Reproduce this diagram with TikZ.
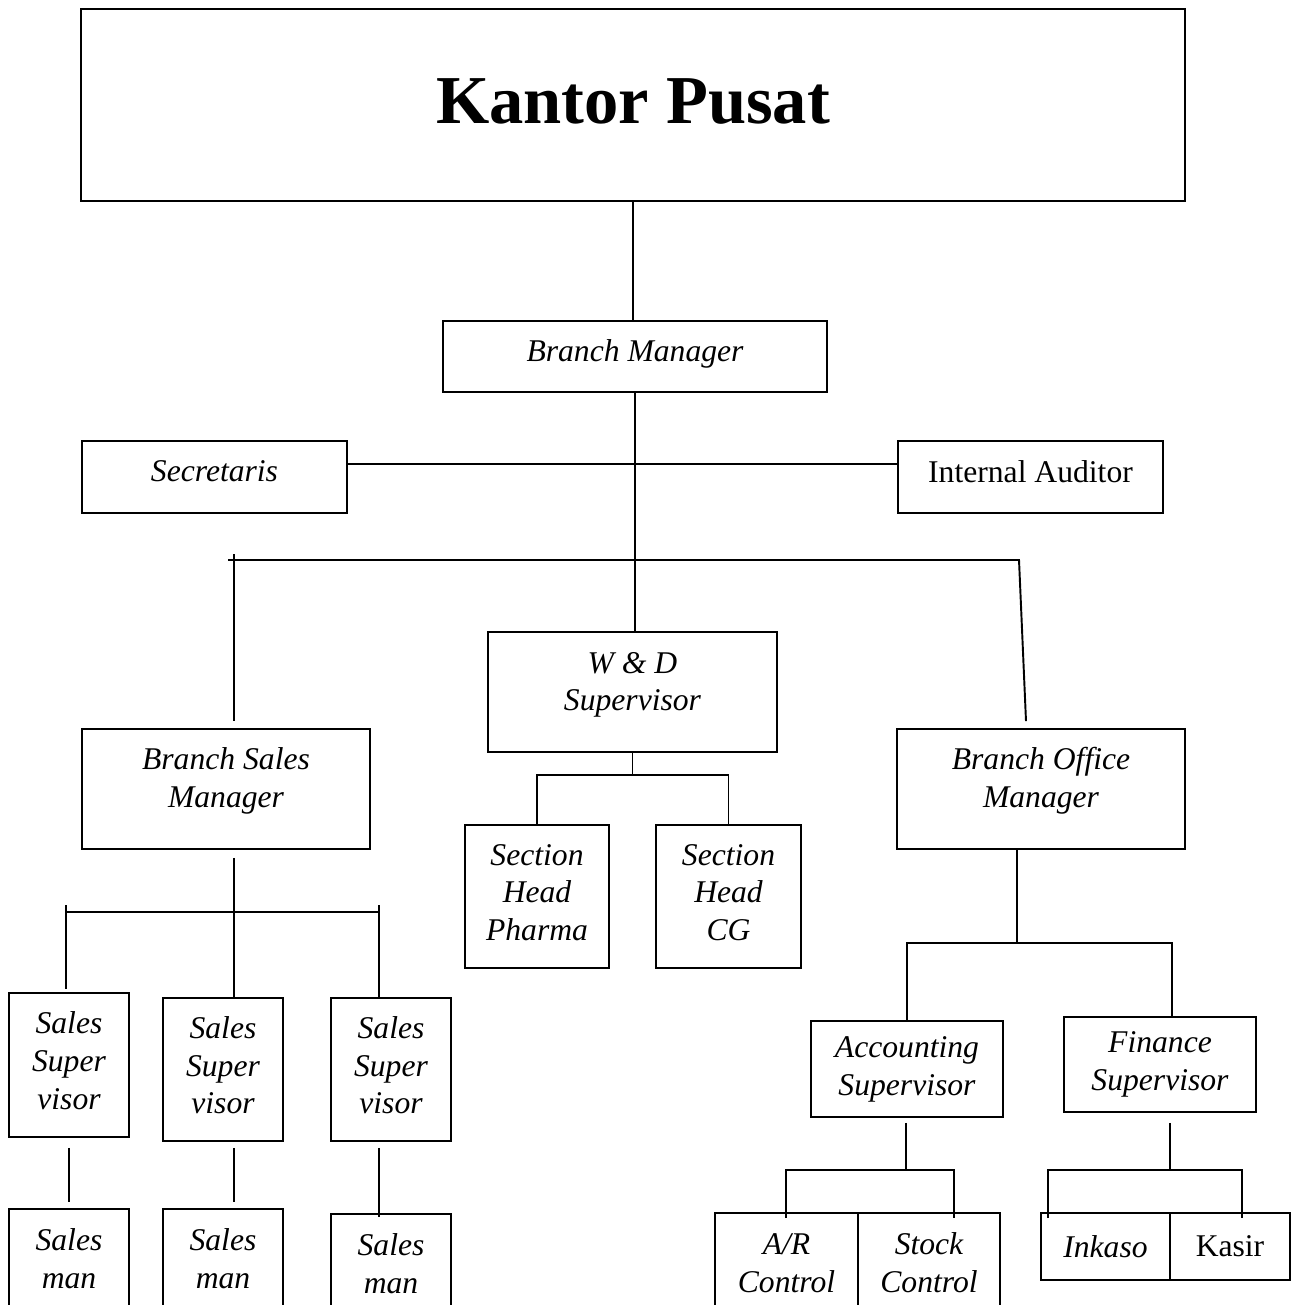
\documentclass[tikz,border=0pt]{standalone}
\usepackage{fontspec}
\setmainfont{Liberation Serif}
\usetikzlibrary{calc}

\begin{document}
\begin{tikzpicture}[x=0.02cm,y=-0.02cm,line width=1.1pt,
            box/.style={draw,inner sep=0pt,align=center,font=\fontsize{18}{21.5}\selectfont\itshape},
            up/.style={font=\fontsize{18}{21.5}\selectfont},
            lift/.style={text depth=#1}]
            \useasboundingbox (0,0) rectangle (1299,1305);
            \node[box,lift=5pt,minimum width=22.08cm,minimum height=3.84cm,font=\fontsize{39}{45}\selectfont\bfseries] (KP) at (633,105) {Kantor Pusat};
            \node[box,lift=6.3pt,minimum width=7.68cm,minimum height=1.42cm] (BM) at (635,356.5) {Branch Manager};
            \node[box,lift=6.8pt,minimum width=5.3cm,minimum height=1.44cm] (SEC) at (214.5,477) {Secretaris};
            \node[box,up,lift=6.8pt,minimum width=5.3cm,minimum height=1.44cm] (IA) at (1030.5,477) {Internal Auditor};
            \node[box,lift=12pt,minimum width=5.78cm,minimum height=2.4cm] (WD) at (632.5,692) {W \& D\\Supervisor};
            \node[box,lift=13pt,minimum width=5.76cm,minimum height=2.4cm] (BSM) at (226,789) {Branch Sales\\Manager};
            \node[box,lift=13pt,minimum width=5.76cm,minimum height=2.4cm] (BOM) at (1041,789) {Branch Office\\Manager};
            \node[box,lift=4.6pt,minimum width=2.88cm,minimum height=2.86cm] (SHP) at (537,896.5) {Section\\Head\\Pharma};
            \node[box,lift=4.6pt,minimum width=2.9cm,minimum height=2.86cm] (SHC) at (728.5,896.5) {Section\\Head\\CG};
            \node[box,lift=5.1pt,minimum width=2.4cm,minimum height=2.88cm] (SS1) at (69,1065) {Sales\\Super\\visor};
            \node[box,lift=5.1pt,minimum width=2.4cm,minimum height=2.86cm] (SS2) at (223,1069.5) {Sales\\Super\\visor};
            \node[box,lift=5.1pt,minimum width=2.4cm,minimum height=2.86cm] (SS3) at (391,1069.5) {Sales\\Super\\visor};
            \node[box,minimum width=2.4cm,minimum height=2cm] (SM1) at (69,1259) {Sales\\man};
            \node[box,minimum width=2.4cm,minimum height=2cm] (SM2) at (223,1259) {Sales\\man};
            \node[box,minimum width=2.4cm,minimum height=2cm] (SM3) at (391,1264) {Sales\\man};
            \node[box,minimum width=3.84cm,minimum height=1.92cm] (AS) at (907,1069) {Accounting\\Supervisor};
            \node[box,minimum width=3.84cm,minimum height=1.9cm] (FS) at (1160,1064.5) {Finance\\Supervisor};
            \node[box,minimum width=2.86cm,minimum height=2cm] (AR) at (786.5,1263) {A/R\\Control};
            \node[box,minimum width=2.84cm,minimum height=2cm] (SC) at (929,1263) {Stock\\Control};
            \node[box,minimum width=2.58cm,minimum height=1.34cm] (INK) at (1105.5,1246.5) {Inkaso};
            \node[box,up,minimum width=2.4cm,minimum height=1.34cm] (KAS) at (1230,1246.5) {Kasir};
            \coordinate (J1) at (634,464);
            \coordinate (BL) at (228,560);
            \coordinate (BR) at (1019,560);
            \coordinate (DL) at (234,554);
            \coordinate (WB) at (633,775);
            \coordinate (SB) at (234,912);
            \coordinate (SBL) at (66,912);
            \coordinate (SBR) at (379,912);
            \coordinate (OB) at (1017,943);
            \coordinate (OBL) at (907,943);
            \coordinate (OBR) at (1172,943);
            \coordinate (AB) at (906,1170);
            \coordinate (ABL) at (786,1170);
            \coordinate (ABR) at (954,1170);
            \coordinate (FB) at (1170,1170);
            \coordinate (FBL) at (1048,1170);
            \coordinate (FBR) at (1242,1170);
            \draw (KP.south) -- (KP.south |- BM.north);
            \draw (SEC.east |- J1) -- (IA.west |- J1);
            \draw (BM.south) -- (BM.south |- WD.north);
            \draw (BL) -- (BR) -- ($(BOM.north)+(-15,-7)$);
            \draw[shorten >=0.14cm] (DL) -- (DL |- BSM.north);
            \draw (WD.south) -- (WD.south |- WB);
            \draw (SHP.north) |- (WB) -| (SHC.north);
            \draw[shorten <=0.16cm] (SB |- BSM.south) -- (SB |- SS2.north);
            \draw (SBL) -- (SBR);
            \draw ($(SBL)+(0,-7)$) -- ($(SBL |- SS1.north)+(0,-3)$);
            \draw ($(SBR)+(0,-7)$) -- (SBR |- SS3.north);
            \draw[shorten <=0.2cm,shorten >=0.12cm] (SS1.south) -- (SS1.south |- SM1.north);
            \draw[shorten <=0.12cm,shorten >=0.12cm] (SB |- SS2.south) -- (SB |- SM2.north);
            \draw[shorten <=0.12cm] (SBR |- SS3.south) -- ($(SBR |- SM3.north)+(0,4)$);
            \draw (OB |- BOM.south) -- (OB);
            \draw (OBL |- AS.north) -- (OBL) -- (OBR) -- (OBR |- FS.north);
            \draw[shorten <=0.1cm] (AB |- AS.south) -- (AB);
            \draw ($(ABL |- AR.north)+(0,6)$) -- (ABL) -- (ABR) -- ($(ABR |- SC.north)+(0,6)$);
            \draw[shorten <=0.2cm] (FB |- FS.south) -- (FB);
            \draw ($(FBL |- INK.north)+(0,6)$) -- (FBL) -- (FBR) -- ($(FBR |- KAS.north)+(0,6)$);
        \end{tikzpicture}
\end{document}
